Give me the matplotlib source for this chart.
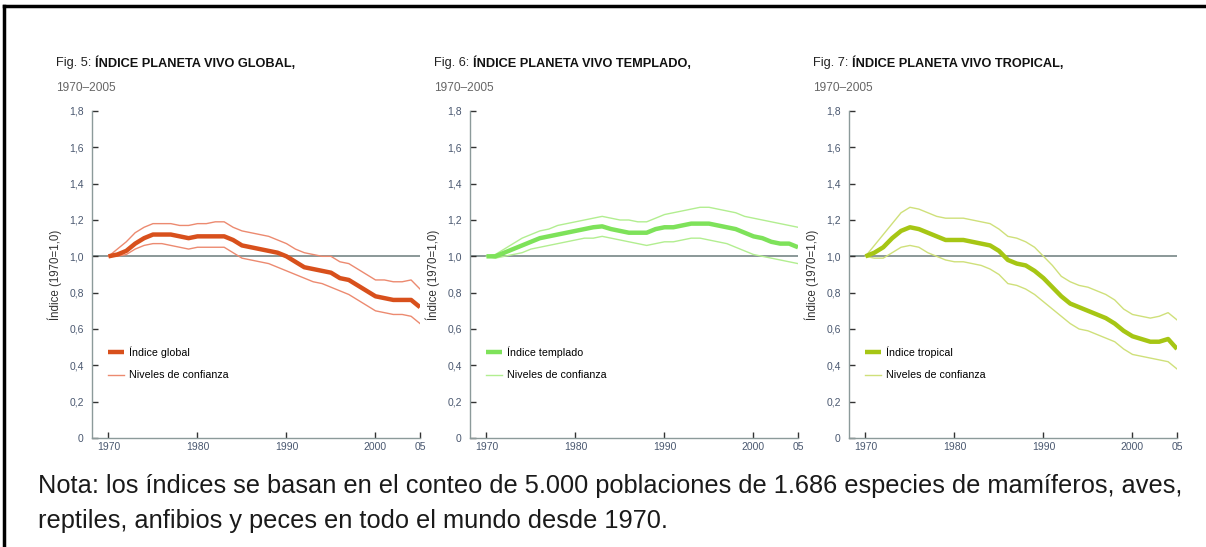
import matplotlib
matplotlib.use('Agg')
import matplotlib.pyplot as plt
from matplotlib.lines import Line2D

plt.rcParams['font.family'] = ['Liberation Sans', 'DejaVu Sans']

# datos (indice, 1970 = 1,0)
years = list(range(1970, 2006))

global_idx = [1.00, 1.01, 1.03, 1.07, 1.10, 1.12, 1.12, 1.12, 1.11, 1.10,
              1.11, 1.11, 1.11, 1.11, 1.09, 1.06, 1.05, 1.04, 1.03, 1.02,
              1.00, 0.97, 0.94, 0.93, 0.92, 0.91, 0.88, 0.87, 0.84, 0.81,
              0.78, 0.77, 0.76, 0.76, 0.76, 0.72]
global_hi = [1.00, 1.04, 1.08, 1.13, 1.16, 1.18, 1.18, 1.18, 1.17, 1.17,
             1.18, 1.18, 1.19, 1.19, 1.16, 1.14, 1.13, 1.12, 1.11, 1.09,
             1.07, 1.04, 1.02, 1.01, 1.00, 1.00, 0.97, 0.96, 0.93, 0.90,
             0.87, 0.87, 0.86, 0.86, 0.87, 0.82]
global_lo = [1.00, 1.00, 1.01, 1.04, 1.06, 1.07, 1.07, 1.06, 1.05, 1.04,
             1.05, 1.05, 1.05, 1.05, 1.02, 0.99, 0.98, 0.97, 0.96, 0.94,
             0.92, 0.90, 0.88, 0.86, 0.85, 0.83, 0.81, 0.79, 0.76, 0.73,
             0.70, 0.69, 0.68, 0.68, 0.67, 0.63]

templado_idx = [1.00, 1.00, 1.02, 1.04, 1.06, 1.08, 1.10, 1.11, 1.12, 1.13,
                1.14, 1.15, 1.16, 1.165, 1.15, 1.14, 1.13, 1.13, 1.13, 1.15,
                1.16, 1.16, 1.17, 1.18, 1.18, 1.18, 1.17, 1.16, 1.15, 1.13,
                1.11, 1.10, 1.08, 1.07, 1.07, 1.05]
templado_hi = [1.00, 1.01, 1.04, 1.07, 1.10, 1.12, 1.14, 1.15, 1.17, 1.18,
               1.19, 1.20, 1.21, 1.22, 1.21, 1.20, 1.20, 1.19, 1.19, 1.21,
               1.23, 1.24, 1.25, 1.26, 1.27, 1.27, 1.26, 1.25, 1.24, 1.22,
               1.21, 1.20, 1.19, 1.18, 1.17, 1.16]
templado_lo = [1.00, 0.99, 1.00, 1.01, 1.02, 1.04, 1.05, 1.06, 1.07, 1.08,
               1.09, 1.10, 1.10, 1.11, 1.10, 1.09, 1.08, 1.07, 1.06, 1.07,
               1.08, 1.08, 1.09, 1.10, 1.10, 1.09, 1.08, 1.07, 1.05, 1.03,
               1.01, 1.00, 0.99, 0.98, 0.97, 0.96]

tropical_idx = [1.00, 1.02, 1.05, 1.10, 1.14, 1.16, 1.15, 1.13, 1.11, 1.09,
                1.09, 1.09, 1.08, 1.07, 1.06, 1.03, 0.98, 0.96, 0.95, 0.92,
                0.88, 0.83, 0.78, 0.74, 0.72, 0.70, 0.68, 0.66, 0.63, 0.59,
                0.56, 0.545, 0.53, 0.53, 0.545, 0.49]
tropical_hi = [1.00, 1.06, 1.12, 1.18, 1.24, 1.27, 1.26, 1.24, 1.22, 1.21,
               1.21, 1.21, 1.20, 1.19, 1.18, 1.15, 1.11, 1.10, 1.08, 1.05,
               1.00, 0.95, 0.89, 0.86, 0.84, 0.83, 0.81, 0.79, 0.76, 0.71,
               0.68, 0.67, 0.66, 0.67, 0.69, 0.65]
tropical_lo = [1.00, 0.99, 0.99, 1.02, 1.05, 1.06, 1.05, 1.02, 1.00, 0.98,
               0.97, 0.97, 0.96, 0.95, 0.93, 0.90, 0.85, 0.84, 0.82, 0.79,
               0.75, 0.71, 0.67, 0.63, 0.60, 0.59, 0.57, 0.55, 0.53, 0.49,
               0.46, 0.45, 0.44, 0.43, 0.42, 0.38]

titulos = ['Fig. 5:', 'Fig. 6:', 'Fig. 7:']
titulos_bold = ['ÍNDICE PLANETA VIVO GLOBAL,', 'ÍNDICE PLANETA VIVO TEMPLADO,',
                'ÍNDICE PLANETA VIVO TROPICAL,']
subtitulo = '1970–2005'
etiquetas = ['Índice global', 'Índice templado', 'Índice tropical']
etiqueta_conf = 'Niveles de confianza'
y_ticks = [0, 0.2, 0.4, 0.6, 0.8, 1.0, 1.2, 1.4, 1.6, 1.8]
y_ticklabels = ['0', '0,2', '0,4', '0,6', '0,8', '1,0', '1,2', '1,4', '1,6', '1,8']
x_ticks = [1970, 1980, 1990, 2000, 2005]
x_ticklabels = ['1970', '1980', '1990', '2000', '05']

series = [(global_idx, global_hi, global_lo),
          (templado_idx, templado_hi, templado_lo),
          (tropical_idx, tropical_hi, tropical_lo)]
col_main = ['#d8501c', '#7ee25a', '#a6c614']
col_conf = ['#ec8a70', '#b2ee90', '#cfe07a']

nota = ('Nota: los índices se basan en el conteo de 5.000 poblaciones de 1.686 especies de mamíferos, aves,\n'
        'reptiles, anfibios y peces en todo el mundo desde 1970.')

W, H = 1206, 547
fig = plt.figure(figsize=(W / 100, H / 100), dpi=100)

lefts = [92, 470, 849]
ax_w = 328
top, bottom = 111, 438
gris = '#8c9a9a'
tick_col = '#4a5870'

for i in range(3):
    l = lefts[i]
    ax = fig.add_axes([l / W, (H - bottom) / H, ax_w / W, (bottom - top) / H])
    ax.set_xlim(1968.15, 2005)
    ax.set_ylim(0, 1.8)
    idx, hi, lo = series[i]
    ax.axhline(1.0, color='#8a9898', lw=1.4, zorder=1)
    ax.plot(years, hi, color=col_conf[i], lw=1.0, zorder=2)
    ax.plot(years, lo, color=col_conf[i], lw=1.0, zorder=2, label=etiqueta_conf)
    ax.plot(years, idx, color=col_main[i], lw=3.2, zorder=3, label=etiquetas[i],
            solid_capstyle='butt')
    h, lab = ax.get_legend_handles_labels()
    ax.legend(h[::-1], lab[::-1], loc='upper left', bbox_to_anchor=(0.035, 0.293),
              frameon=False, fontsize=7.7, handlelength=1.5, handletextpad=0.45,
              labelspacing=1.15, borderaxespad=0)
    for s in ['top', 'right']:
        ax.spines[s].set_visible(False)
    for s in ['left', 'bottom']:
        ax.spines[s].set_color(gris)
        ax.spines[s].set_linewidth(1.0)
    ax.set_yticks(y_ticks)
    ax.set_yticklabels(y_ticklabels)
    ax.set_xticks(x_ticks)
    ax.set_xticklabels(x_ticklabels)
    ax.tick_params(axis='both', direction='in', length=4, width=1.0, color='#333333',
                   labelsize=7.5, labelcolor=tick_col, pad=3)
    ax.tick_params(axis='y', pad=6)
    ax.set_ylabel('Índice (1970=1,0)', fontsize=8.3, color='#333333', labelpad=5)
    ax.patch.set_alpha(0)

    tx = (l - 36) / W
    t1 = fig.text(tx, 1 - 63 / H, titulos[i] + ' ', fontsize=9.2, color='#222222',
                  va='center', ha='left')
    ax.annotate(titulos_bold[i], xy=(1, 0.5), xycoords=t1, va='center', ha='left',
                fontsize=9.2, fontweight='bold', color='#111111', annotation_clip=False)
    fig.text(tx, 1 - 88 / H, subtitulo, fontsize=8.6, color='#666666', va='center', ha='left')

fig.text(38 / W, 1 - 528 / H, nota, fontsize=18.3, color='#1a1a1a', ha='left',
         va='baseline', linespacing=1.6)

# marco
fig.add_artist(Line2D([4 / W, 1], [1 - 6 / H, 1 - 6 / H], color='black', lw=2.5,
                      transform=fig.transFigure))
fig.add_artist(Line2D([4 / W, 4 / W], [0, 1 - 6 / H], color='black', lw=2.5,
                      transform=fig.transFigure))

fig.savefig('out.png', dpi=100)
